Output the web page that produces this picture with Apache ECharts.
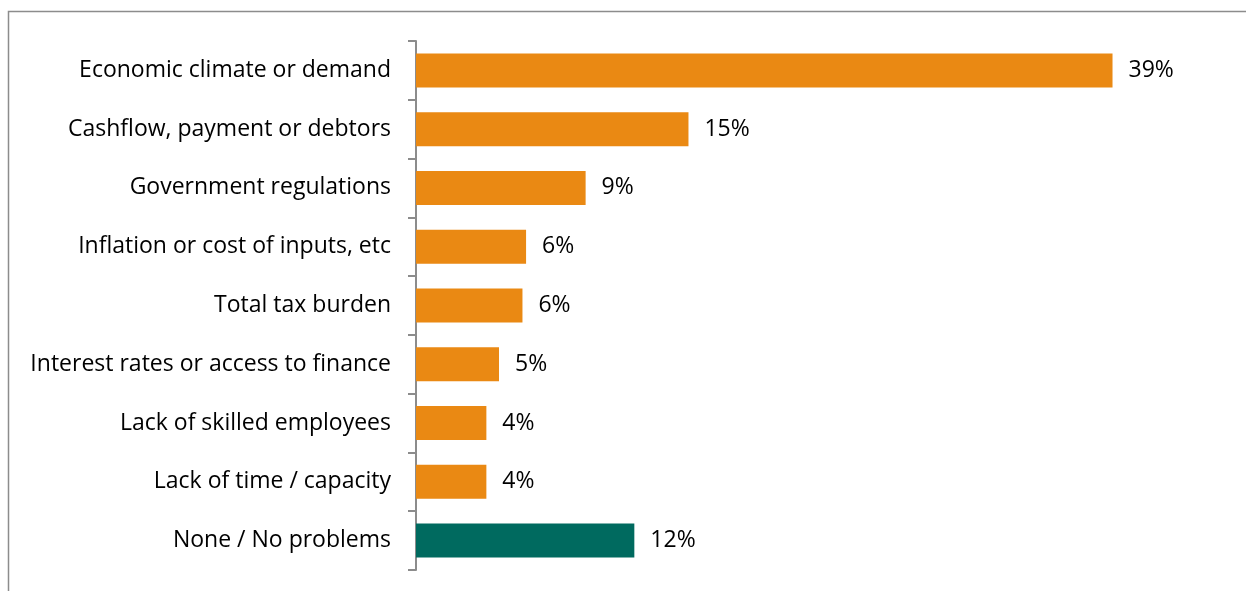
<!DOCTYPE html>
<html>
<head>
<meta charset="utf-8">
<script src="https://cdn.jsdelivr.net/npm/echarts@6/dist/echarts.min.js"></script>
<style>
  html, body { margin: 0; padding: 0; background: #ffffff; }
  #chart { width: 1246px; height: 591px; }
</style>
</head>
<body>
<div id="chart"></div>
<script>
// Biggest problem facing the business (share of respondents, %)
const categories = [
  'Economic climate or demand',
  'Cashflow, payment or debtors',
  'Government regulations',
  'Inflation or cost of inputs, etc',
  'Total tax burden',
  'Interest rates or access to finance',
  'Lack of skilled employees',
  'Lack of time / capacity',
  'None / No problems'
];
const shares = [38.6, 15.1, 9.4, 6.1, 5.9, 4.6, 3.9, 3.9, 12.1];
const noProblemCategory = 'None / No problems';

const ORANGE = '#EA8913';
const TEAL = '#006A5F';
const AXIS_GREY = '#8c8c8c';
const FONT = '"Open Sans"';

const chart = echarts.init(document.getElementById('chart'), null, { renderer: 'canvas' });

chart.setOption({
  animation: false,
  backgroundColor: '#ffffff',
  graphic: [{
    type: 'rect',
    shape: { x: 8.5, y: 11.5, width: 1400, height: 800 },
    style: { fill: 'none', stroke: AXIS_GREY, lineWidth: 1.5 },
    silent: true,
    z: -1
  }],
  grid: { left: 416, top: 41, width: 812, height: 529, containLabel: false },
  xAxis: {
    type: 'value',
    min: 0,
    max: 45,
    show: false,
    splitLine: { show: false }
  },
  yAxis: {
    type: 'category',
    data: categories,
    inverse: true,
    axisLine: { show: true, lineStyle: { color: AXIS_GREY, width: 2 } },
    axisTick: { show: true, alignWithLabel: false, length: 8, lineStyle: { color: AXIS_GREY, width: 2 } },
    axisLabel: { color: '#000000', fontSize: 23, fontFamily: FONT, margin: 25, padding: [3, 0, 0, 0] },
    splitLine: { show: false }
  },
  series: [{
    type: 'bar',
    data: shares,
    barWidth: 34,
    itemStyle: {
      color: (p) => categories[p.dataIndex] === noProblemCategory ? TEAL : ORANGE
    },
    label: {
      show: true,
      position: 'right',
      distance: 16,
      color: '#000000',
      fontSize: 23,
      fontFamily: FONT,
      padding: [3, 0, 0, 0],
      formatter: (p) => Math.round(p.value) + '%'
    }
  }]
});
</script>
</body>
</html>
